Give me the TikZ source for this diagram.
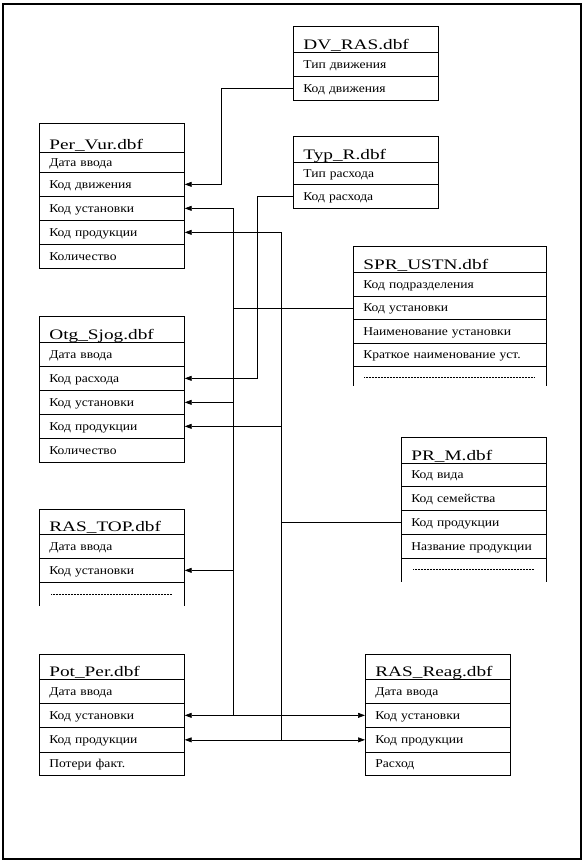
\documentclass[tikz,border=0pt]{standalone}
\usepackage{fontspec}
\setmainfont{Liberation Serif}
\newfontfamily\titlefont[FakeStretch=1.33]{Liberation Serif}
\newfontfamily\rowfont[FakeStretch=1.13]{Liberation Serif}
\usetikzlibrary{arrows.meta}
\begin{document}
\begin{tikzpicture}[x=1pt,y=-1pt,
  cellbase/.style={draw, line width=0.7pt, anchor=north west, inner xsep=10pt, inner ysep=0pt, align=left},
  cell/.style={cellbase, minimum width=145pt, text width=125pt, minimum height=#1pt,
    text height=10.3pt, text depth=2.3pt, font=\rowfont\fontsize{12}{14}\selectfont},
  wcell/.style={cell=#1, minimum width=193pt, text width=173pt},
  title/.style 2 args={cellbase, minimum width=145pt, text width=125pt, minimum height=#1pt,
    text height=#2pt, text depth=3.2pt, font=\titlefont\fontsize{14.5}{16}\selectfont},
  wtitle/.style 2 args={title={#1}{#2}, minimum width=193pt, text width=173pt},
  openrow/.style={anchor=north west, inner sep=0pt, minimum width=#1pt, minimum height=24pt},
  side/.style={line width=0.7pt},
  dotline/.style={line width=0.5pt, dash pattern=on 0.6pt off 0.9pt},
  conn/.style={line width=0.7pt},
  arr/.style={conn, -{Triangle[length=7pt,width=5pt]}}
]
\useasboundingbox (0,0) rectangle (586,864);
\draw[line width=1.6pt] (3,4) rectangle (581,859);

% DV_RAS
\node[title={26}{22.8}] (dv0) at (293,26) {DV\_RAS.dbf};
\node[cell=24] (dv1) at (293,52) {Тип движения};
\node[cell=24] (dv2) at (293,76) {Код движения};

% Per_Vur
\node[title={29}{25.8}] (pv0) at (39,123) {Per\_Vur.dbf};
\node[cell=20] (pv1) at (39,152) {Дата ввода};
\node[cell=24] (pv2) at (39,172) {Код движения};
\node[cell=24] (pv3) at (39,196) {Код установки};
\node[cell=24] (pv4) at (39,220) {Код продукции};
\node[cell=24] (pv5) at (39,244) {Количество};

% Typ_R
\node[title={26}{22.8}] (tr0) at (293,136) {Typ\_R.dbf};
\node[cell=22] (tr1) at (293,162) {Тип расхода};
\node[cell=24] (tr2) at (293,184) {Код расхода};

% SPR_USTN
\node[wtitle={26}{22.8}] (sp0) at (353,246) {SPR\_USTN.dbf};
\node[wcell=24] (sp1) at (353,272) {Код подразделения};
\node[wcell=23] (sp2) at (353,296) {Код установки};
\node[wcell=24] (sp3) at (353,319) {Наименование установки};
\node[wcell=23] (sp4) at (353,343) {\mbox{Краткое наименование уст.}};
\node[openrow=193, minimum height=20pt] (sp5) at (353,366) {};
\draw[side] (sp5.north west) -- (sp5.south west);
\draw[side] (sp5.north east) -- (sp5.south east);
\draw[dotline] ([xshift=11pt,yshift=-11pt]sp5.north west) -- ([xshift=-12pt,yshift=-11pt]sp5.north east);

% Otg_Sjog
\node[title={26}{22.8}] (og0) at (39,316) {Otg\_Sjog.dbf};
\node[cell=24] (og1) at (39,342) {Дата ввода};
\node[cell=24] (og2) at (39,366) {Код расхода};
\node[cell=24] (og3) at (39,390) {Код установки};
\node[cell=24] (og4) at (39,414) {Код продукции};
\node[cell=24] (og5) at (39,438) {Количество};

% PR_M
\node[title={26}{22.8}] (pm0) at (401,437) {PR\_M.dbf};
\node[cell=23] (pm1) at (401,463) {Код вида};
\node[cell=24] (pm2) at (401,486) {Код семейства};
\node[cell=24] (pm3) at (401,510) {Код продукции};
\node[cell=24] (pm4) at (401,534) {\mbox{Название продукции}};
\node[openrow=145] (pm5) at (401,558) {};
\draw[side] (pm5.north west) -- (pm5.south west);
\draw[side] (pm5.north east) -- (pm5.south east);
\draw[dotline] ([xshift=12pt,yshift=-11pt]pm5.north west) -- ([xshift=-12pt,yshift=-11pt]pm5.north east);

% RAS_TOP
\node[title={25}{21.8}] (rt0) at (39,509) {RAS\_TOP.dbf};
\node[cell=24] (rt1) at (39,534) {Дата ввода};
\node[cell=24] (rt2) at (39,558) {Код установки};
\node[openrow=145] (rt3) at (39,582) {};
\draw[side] (rt3.north west) -- (rt3.south west);
\draw[side] (rt3.north east) -- (rt3.south east);
\draw[dotline] ([xshift=12pt,yshift=-12pt]rt3.north west) -- ([xshift=-12pt,yshift=-12pt]rt3.north east);

% Pot_Per
\node[title={25}{21.8}] (pp0) at (39,654) {Pot\_Per.dbf};
\node[cell=24] (pp1) at (39,679) {Дата ввода};
\node[cell=24] (pp2) at (39,703) {Код установки};
\node[cell=25] (pp3) at (39,727) {Код продукции};
\node[cell=23] (pp4) at (39,752) {Потери факт.};

% RAS_Reag
\node[title={25}{21.8}] (rr0) at (365,654) {RAS\_Reag.dbf};
\node[cell=24] (rr1) at (365,679) {Дата ввода};
\node[cell=24] (rr2) at (365,703) {Код установки};
\node[cell=25] (rr3) at (365,727) {Код продукции};
\node[cell=23] (rr4) at (365,752) {Расход};

% trunk positions
\coordinate (tc) at (221,0);
\coordinate (td) at (257,0);
\coordinate (ta) at (233,0);
\coordinate (tb) at (281,0);

% DV_RAS -> Per_Vur
\draw[arr] (dv2.west) -- (dv2.west -| tc) -- (pv2.east -| tc) -- (pv2.east);
% Typ_R -> Otg_Sjog
\draw[arr] (tr2.west) -- (tr2.west -| td) -- (og2.east -| td) -- (og2.east);

% Код установки trunk
\draw[conn] (pv3.east -| ta) -- (pp2.east -| ta);
\draw[conn] (sp2.west) -- (sp2.west -| ta);
\draw[arr] (pv3.east -| ta) -- (pv3.east);
\draw[arr] (og3.east -| ta) -- (og3.east);
\draw[arr] (rt2.east -| ta) -- (rt2.east);
\draw[arr] (pp2.east -| ta) -- (pp2.east);
\draw[arr] (pp2.east -| ta) -- (rr2.west);

% Код продукции trunk
\draw[conn] (pv4.east -| tb) -- (pp3.east -| tb);
\draw[conn] (pm3.west) -- (pm3.west -| tb);
\draw[arr] (pv4.east -| tb) -- (pv4.east);
\draw[arr] (og4.east -| tb) -- (og4.east);
\draw[arr] (pp3.east -| tb) -- (pp3.east);
\draw[arr] (pp3.east -| tb) -- (rr3.west);
\end{tikzpicture}
\end{document}
